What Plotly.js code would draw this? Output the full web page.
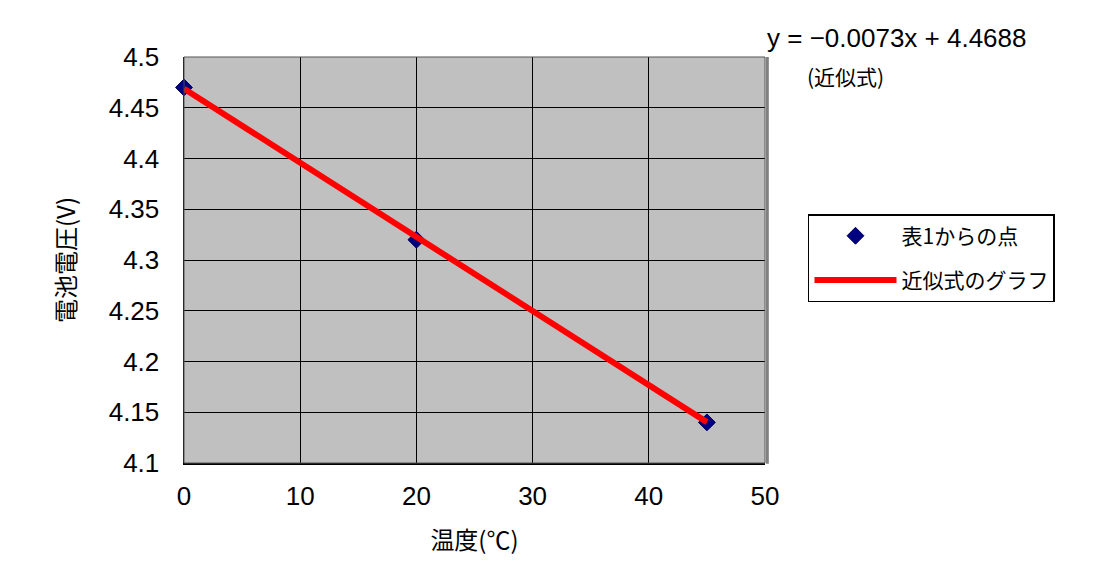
<!DOCTYPE html>
<html>
<head>
<meta charset="utf-8">
<script src="https://cdn.plot.ly/plotly-3.0.1.min.js"></script>
<style>html,body{margin:0;padding:0;background:#fff;}#chart{width:1100px;height:570px;}</style>
</head>
<body>
<div id="chart"></div>
<script>
const temps = [0, 20, 45];
const voltages = [4.47, 4.32, 4.14];
const fitSlope = -0.0073;
const fitIntercept = 4.4688;
const fitX = [0, 45];
const fitY = fitX.map(x => fitSlope * x + fitIntercept);
const xTicks = [0, 10, 20, 30, 40, 50];
const yTicks = [4.1, 4.15, 4.2, 4.25, 4.3, 4.35, 4.4, 4.45, 4.5];
const yTickText = ['4.1', '4.15', '4.2', '4.25', '4.3', '4.35', '4.4', '4.45', '4.5'];
const seriesNames = ['表1からの点', '近似式のグラフ'];
const equationText = 'y = −0.0073x + 4.4688';
const equationNote = '(近似式)';

const numFont = 'Liberation Sans, Arial, sans-serif';
const jpFont = 'Noto Sans CJK JP, sans-serif';

const traces = [
  {
    x: temps, y: voltages, mode: 'markers', type: 'scatter', name: seriesNames[0],
    legendgroup: 'pts',
    marker: {symbol: 'diamond', size: 13, color: '#000080', line: {color: '#000060', width: 1}},
    cliponaxis: false
  },
  {
    x: fitX, y: fitY, mode: 'lines', type: 'scatter', name: seriesNames[1],
    legendgroup: 'fit',
    line: {color: '#ff0000', width: 6}, cliponaxis: false
  }
];

const layout = {
  width: 1100, height: 570,
  margin: {l: 184, r: 335, t: 57, b: 107},
  paper_bgcolor: '#ffffff',
  plot_bgcolor: '#c0c0c0',
  showlegend: true,
  legend: {
    x: 1.074, y: 0.613, xanchor: 'left', yanchor: 'top',
    bordercolor: '#000', borderwidth: 1.5, bgcolor: '#fff',
    font: {family: jpFont, size: 21, color: '#000'},
    tracegroupgap: 14, itemwidth: 82
  },
  xaxis: {
    range: [0, 50], tickvals: xTicks, ticktext: xTicks.map(String),
    showgrid: true, gridcolor: '#000', gridwidth: 1,
    zeroline: false, showline: true, linecolor: '#000', linewidth: 1.5,
    ticks: '', ticklen: 0, ticklabelstandoff: 9,
    tickfont: {family: numFont, size: 26, color: '#000'},
    title: {text: '温度(℃)', font: {family: jpFont, size: 24, color: '#000'}, standoff: 22}
  },
  yaxis: {
    range: [4.1, 4.5], tickvals: yTicks, ticktext: yTickText,
    showgrid: true, gridcolor: '#000', gridwidth: 1,
    zeroline: false, showline: true, linecolor: '#000', linewidth: 1.5,
    ticks: '', ticklen: 0, ticklabelstandoff: 18,
    tickfont: {family: numFont, size: 26, color: '#000'},
    title: {text: '電池電圧(V)', font: {family: jpFont, size: 24, color: '#000'}, standoff: 26}
  },
  shapes: [
    {type: 'rect', xref: 'paper', yref: 'paper', x0: 0, x1: 1, y0: 0, y1: 1,
     line: {color: '#555', width: 1}, layer: 'above'},
    {type: 'line', xref: 'paper', yref: 'paper', x0: 1.004, x1: 1.004, y0: -0.002, y1: 1,
     line: {color: '#808080', width: 3}, layer: 'above'}
  ],
  annotations: [
    {xref: 'paper', yref: 'paper', x: 1.228, y: 1.047, xanchor: 'center', yanchor: 'middle',
     text: equationText, showarrow: false, font: {family: numFont, size: 26, color: '#000'}},
    {xref: 'paper', yref: 'paper', x: 1.138, y: 0.952, xanchor: 'center', yanchor: 'middle',
     text: equationNote, showarrow: false, font: {family: jpFont, size: 21, color: '#000'}}
  ]
};

Plotly.newPlot('chart', traces, layout, {displayModeBar: false, staticPlot: true});
</script>
</body>
</html>
